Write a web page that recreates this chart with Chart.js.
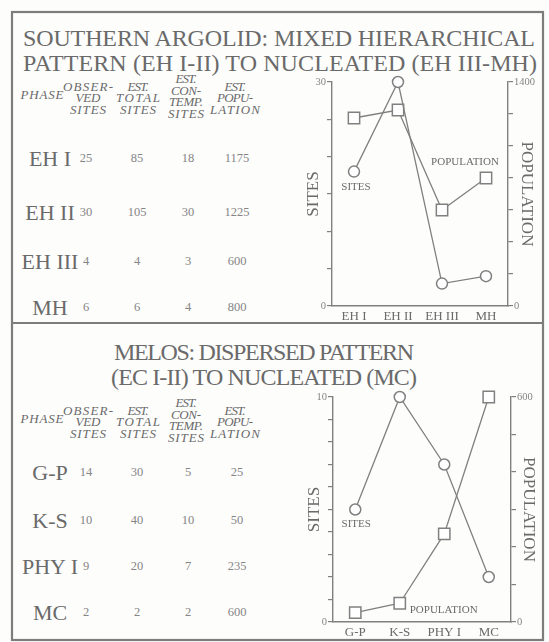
<!DOCTYPE html>
<html>
<head>
<meta charset="utf-8">
<script src="https://cdn.jsdelivr.net/npm/chart.js@4.4.1/dist/chart.umd.min.js"></script>
<style>
  html, body { margin: 0; padding: 0; background: #ffffff; }
  #page { position: relative; width: 549px; height: 642px; overflow: hidden; background: #fdfdfc; }
  #sheet { position: absolute; left: 0; top: 0; }
  canvas { position: absolute; }
</style>
</head>
<body>
<div id="page">
  <svg id="sheet" width="549" height="642" xmlns="http://www.w3.org/2000/svg"></svg>
  <canvas id="argolid" width="249" height="255" style="left:295px;top:71px"></canvas>
  <canvas id="melos" width="250" height="256" style="left:296px;top:386px"></canvas>
</div>
<script>
// ---- Southern Argolid ----
const argolidTitle = ['SOUTHERN ARGOLID: MIXED HIERARCHICAL', 'PATTERN (EH I-II) TO NUCLEATED (EH III-MH)'];
const argolidPhases = ['EH I', 'EH II', 'EH III', 'MH'];
const argolidObserved = [25, 30, 4, 6];
const argolidTotal = [85, 105, 4, 6];
const argolidContemporary = [18, 30, 3, 4];
const argolidPopulation = [1175, 1225, 600, 800];
const argolidSitesAxis = [0, 30, 5];        // min, max, step
const argolidPopulationAxis = [0, 1400, 200];

// ---- Melos ----
const melosTitle = ['MELOS: DISPERSED PATTERN', '(EC I-II) TO NUCLEATED (MC)'];
const melosPhases = ['G-P', 'K-S', 'PHY I', 'MC'];
const melosObserved = [14, 10, 9, 2];
const melosTotal = [30, 40, 20, 2];
const melosContemporary = [5, 10, 7, 2];
const melosPopulation = [25, 50, 235, 600];
const melosSitesAxis = [0, 10, 1];
const melosPopulationAxis = [0, 600, 100];

// column headings of the tables
const phaseHeading = 'PHASE';
const columnHeadings = [
  ['OBSER-', 'VED', 'SITES'],
  ['EST.', 'TOTAL', 'SITES'],
  ['EST.', 'CON-', 'TEMP.', 'SITES'],
  ['EST.', 'POPU-', 'LATION']
];

const SERIF = '"Liberation Serif", "DejaVu Serif", serif';
const INK = '#6a6a6a';
const SOFT = '#858585';
const LINE = '#808080';

// ---------- static sheet: frame, titles, tables ----------
const svg = document.getElementById('sheet');
const NS = 'http://www.w3.org/2000/svg';
function el(tag, attrs, text) {
  const e = document.createElementNS(NS, tag);
  for (const k in attrs) e.setAttribute(k, attrs[k]);
  if (text !== undefined) e.textContent = text;
  svg.appendChild(e);
  return e;
}
function label(x, y, str, size, opts = {}) {
  const a = {
    x, y, 'font-family': SERIF, 'font-size': size, fill: opts.fill || INK,
    'text-anchor': opts.anchor || 'middle', 'dominant-baseline': 'central'
  };
  if (opts.italic) a['font-style'] = 'italic';
  if (opts.width) { a.textLength = opts.width; a.lengthAdjust = 'spacing'; }
  return el('text', a, String(str));
}

// frame and divider
el('rect', { x: 12, y: 12, width: 531, height: 628, fill: 'none', stroke: '#7d7d7d', 'stroke-width': 2.2 });
el('line', { x1: 12, y1: 323, x2: 543, y2: 323, stroke: '#7d7d7d', 'stroke-width': 2.2 });

// titles
label(279, 38, argolidTitle[0], 24, { width: 512 });
label(280, 63, argolidTitle[1], 24, { width: 514 });
label(264, 352, melosTitle[0], 24, { width: 300 });
label(264, 377, melosTitle[1], 24, { width: 306 });

function drawTable(top, rowYs, phases, cols) {
  const headX = [88, 138, 186, 235];
  const headW = [[50, 25, 36], [21, 44, 36], [21, 30, 34, 36], [21, 36, 50]];
  const step = 11.5;
  label(42, top + 8, phaseHeading, 13, { italic: true, width: 43 });
  columnHeadings.forEach((lines, c) => {
    const start = lines.length === 4 ? top - 7.5 : top;
    lines.forEach((t, i) => label(headX[c], start + i * step, t, 13, { italic: true, width: headW[c][i] }));
  });
  const numX = [86, 137, 188, 237];
  phases.forEach((p, r) => {
    label(50, rowYs[r], p, 22);
    cols.forEach((col, c) => label(numX[c], rowYs[r], col[r], 12.5, { fill: SOFT }));
  });
}
drawTable(86, [158, 212, 261, 307], argolidPhases,
  [argolidObserved, argolidTotal, argolidContemporary, argolidPopulation]);
drawTable(410, [472, 520, 566, 612], melosPhases,
  [melosObserved, melosTotal, melosContemporary, melosPopulation]);

// ---------- charts ----------
// small text notes placed next to a given point of a dataset
const notePlugin = {
  id: 'notes',
  afterDatasetsDraw(chart, args, opts) {
    const ctx = chart.ctx;
    (opts.items || []).forEach(n => {
      const pt = chart.getDatasetMeta(n.dataset).data[n.index];
      ctx.save();
      ctx.font = '11px ' + SERIF;
      ctx.fillStyle = INK;
      ctx.textAlign = n.align || 'center';
      ctx.textBaseline = 'middle';
      ctx.fillText(n.text, pt.x + n.dx, pt.y + n.dy);
      ctx.restore();
    });
  }
};

function buildChart(id, phases, sites, population, sitesAxis, popAxis, notes, widths) {
  const tickFont = { family: SERIF, size: 10.5 };
  return new Chart(document.getElementById(id), {
    type: 'line',
    data: {
      labels: phases,
      datasets: [
        {
          label: 'SITES', data: sites, yAxisID: 'y',
          borderColor: LINE, borderWidth: 1.3, tension: 0, clip: false,
          pointStyle: 'circle', pointRadius: 5.5, pointBorderWidth: 1.5,
          pointBackgroundColor: '#ffffff', pointBorderColor: LINE
        },
        {
          label: 'POPULATION', data: population, yAxisID: 'y1',
          borderColor: LINE, borderWidth: 1.3, tension: 0, clip: false,
          pointStyle: 'rect', pointRadius: 8, pointBorderWidth: 1.5,
          pointBackgroundColor: '#ffffff', pointBorderColor: LINE
        }
      ]
    },
    options: {
      responsive: false,
      animation: false,
      events: [],
      layout: { padding: { top: widths.top, left: 0, right: 0, bottom: 0 } },
      plugins: {
        legend: { display: false },
        tooltip: { enabled: false },
        notes: { items: notes }
      },
      scales: {
        x: {
          offset: true,
          grid: { display: false, drawTicks: false },
          border: { color: LINE, width: 1.4 },
          ticks: { color: INK, font: { family: SERIF, size: 13 }, padding: 3, maxRotation: 0, autoSkip: false },
          afterFit: s => { s.height = widths.bottom; }
        },
        y: {
          position: 'left',
          min: sitesAxis[0], max: sitesAxis[1],
          ticks: {
            stepSize: sitesAxis[2], color: SOFT, font: tickFont, padding: 1,
            callback: v => (v === sitesAxis[0] || v === sitesAxis[1]) ? String(v) : ''
          },
          grid: { drawOnChartArea: false, tickLength: 5, color: LINE, lineWidth: 1.2 },
          border: { color: LINE, width: 1.4 },
          title: { display: true, text: 'SITES', color: INK, font: { family: SERIF, size: 17 }, padding: { top: 8, bottom: 0 } },
          afterFit: s => { s.width = widths.left; }
        },
        y1: {
          position: 'right',
          min: popAxis[0], max: popAxis[1],
          ticks: {
            stepSize: popAxis[2], color: SOFT, font: tickFont, padding: 1,
            callback: v => (v === popAxis[0] || v === popAxis[1]) ? String(v) : ''
          },
          grid: { drawOnChartArea: false, tickLength: 5, color: LINE, lineWidth: 1.2 },
          border: { color: LINE, width: 1.4 },
          title: { display: true, text: 'POPULATION', color: INK, font: { family: SERIF, size: 17 }, padding: { top: 7, bottom: 0 } },
          afterFit: s => { s.width = widths.right; }
        }
      }
    },
    plugins: [notePlugin]
  });
}

buildChart('argolid', argolidPhases, argolidContemporary, argolidPopulation,
  argolidSitesAxis, argolidPopulationAxis,
  [
    { dataset: 0, index: 0, text: 'SITES', dx: 2, dy: 16 },
    { dataset: 1, index: 3, text: 'POPULATION', dx: -21, dy: -16 }
  ],
  { top: 11, bottom: 20, left: 37, right: 36 });

buildChart('melos', melosPhases, melosContemporary, melosPopulation,
  melosSitesAxis, melosPopulationAxis,
  [
    { dataset: 0, index: 0, text: 'SITES', dx: 1, dy: 15 },
    { dataset: 1, index: 1, text: 'POPULATION', dx: 10, dy: 7, align: 'left' }
  ],
  { top: 11, bottom: 20, left: 37, right: 35 });
</script>
</body>
</html>
